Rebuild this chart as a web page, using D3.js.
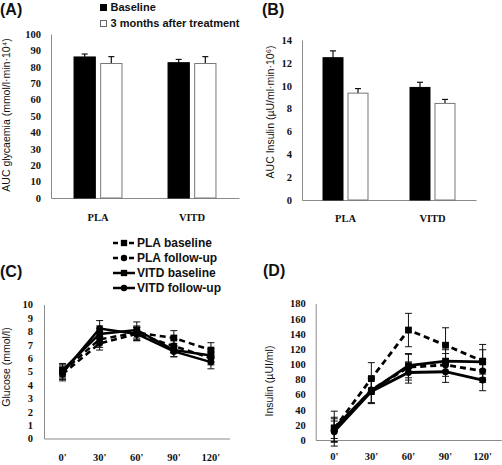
<!DOCTYPE html>
<html><head><meta charset="utf-8">
<script src="https://cdn.jsdelivr.net/npm/d3@7"></script>
<style>
body{margin:0;background:#fff;}
svg{display:block;}
.tick text{font-family:"Liberation Serif",serif;font-weight:bold;font-size:10.5px;fill:#111;}
.ttl{font-family:"Liberation Sans",Arial,sans-serif;font-size:10.5px;fill:#111;}
.lg{font-family:"Liberation Sans",Arial,sans-serif;font-weight:bold;font-size:11px;fill:#111;}
.pl{font-family:"Liberation Sans",Arial,sans-serif;font-weight:bold;font-size:16px;fill:#111;}
</style></head><body>
<script>
// ---------- data ----------
const categories = ["PLA", "VITD"];
const barSeries = ["Baseline", "3 months after treatment"];
const aucGlycBaseline = [86, 82.5];
const aucGlycBaselineErr = [1.8, 2.0];
const aucGlycFollow = [82, 82];
const aucGlycFollowErr = [4.2, 4.2];
const aucInsBaseline = [12.45, 9.85];
const aucInsBaselineErr = [0.6, 0.45];
const aucInsFollow = [9.35, 8.45];
const aucInsFollowErr = [0.4, 0.35];

const timePoints = ["0'", "30'", "60'", "90'", "120'"];
const lineSeries = ["PLA baseline", "PLA follow-up", "VITD baseline", "VITD follow-up"];
const glucPlaBase = [5.0, 7.4, 7.9, 7.5, 6.6];
const glucPlaBaseErr = [0.5, 0.6, 0.5, 0.55, 0.55];
const glucPlaFollow = [4.8, 7.1, 7.8, 6.9, 6.0];
const glucPlaFollowErr = [0.5, 0.5, 0.5, 0.5, 0.5];
const glucVitdBase = [5.1, 7.8, 8.1, 6.6, 6.2];
const glucVitdBaseErr = [0.5, 0.6, 0.6, 0.5, 0.5];
const glucVitdFollow = [4.9, 8.2, 7.8, 6.5, 5.7];
const glucVitdFollowErr = [0.5, 0.6, 0.5, 0.4, 0.5];
const insPlaBase = [15, 81, 145, 125, 104];
const insPlaBaseErr = [23, 21, 22, 23, 22];
const insPlaFollow = [13, 66, 96, 99, 91];
const insPlaFollowErr = [15, 17, 17, 15, 15];
const insVitdBase = [16, 65, 98, 104, 103];
const insVitdBaseErr = [14, 16, 16, 15, 16];
const insVitdFollow = [11, 64, 89, 90, 79];
const insVitdFollowErr = [14, 16, 14, 14, 14];

const glucTicks = d3.range(0, 11, 1);
const insTicks = d3.range(0, 181, 20);
const aucGlycTicks = d3.range(0, 101, 10);
const aucInsTicks = d3.range(0, 15, 2);

// ---------- drawing ----------
const W = 502, H = 465;
const svg = d3.select("body").append("svg").attr("width", W).attr("height", H);
const AX = "#8a8a8a";

function barPanel(o) {
  const g = svg.append("g");
  const x0 = d3.scaleBand().domain(categories).range([o.left, o.right]).paddingInner(o.pi).paddingOuter(o.pi / 2);
  const x1 = d3.scaleBand().domain(barSeries).range([0, x0.bandwidth()]).paddingInner(0.2);
  const y = d3.scaleLinear().domain([o.ticks[0], o.ticks[o.ticks.length - 1]]).range([o.bottom, o.top]);
  const ya = g.append("g").attr("transform", `translate(${o.left},0)`)
    .call(d3.axisLeft(y).tickValues(o.ticks).tickSize(0).tickPadding(10));
  ya.select(".domain").attr("stroke", AX);
  const xa = g.append("g").attr("transform", `translate(0,${o.bottom})`)
    .call(d3.axisBottom(x0).tickSize(0).tickPadding(o.xpad));
  xa.select(".domain").attr("stroke", AX);
  const rows = categories.map((c, i) => ({c, vals: [o.base[i], o.follow[i]], errs: [o.baseErr[i], o.followErr[i]]}));
  rows.forEach(r => {
    r.vals.forEach((v, j) => {
      const s = barSeries[j];
      const bx = x0(r.c) + x1(s);
      const e = r.errs[j];
      const cx = bx + x1.bandwidth() / 2;
      g.append("line").attr("x1", cx).attr("x2", cx).attr("y1", y(v)).attr("y2", y(v + e)).attr("stroke", "#111").attr("stroke-width", 1.2);
      g.append("line").attr("x1", cx - 3).attr("x2", cx + 3).attr("y1", y(v + e)).attr("y2", y(v + e)).attr("stroke", "#111").attr("stroke-width", 1.2);
      g.append("rect").attr("x", bx).attr("y", y(v)).attr("width", x1.bandwidth()).attr("height", o.bottom - y(v))
        .attr("fill", j === 0 ? "#000" : "#fff").attr("stroke", j === 0 ? "#000" : "#777").attr("stroke-width", 1);
    });
  });
  g.append("text").attr("class", "ttl").attr("transform", `translate(${o.tx},${o.ty}) rotate(-90)`)
    .attr("text-anchor", "middle").text(o.title);
}

barPanel({left: 51, right: 239, top: 34, bottom: 198, pi: 0.49, ticks: aucGlycTicks, xpad: 16,
  base: aucGlycBaseline, baseErr: aucGlycBaselineErr, follow: aucGlycFollow, followErr: aucGlycFollowErr,
  title: "AUC glycaemia (mmol/l·min·10⁴)", tx: 10, ty: 115});
barPanel({left: 302, right: 476, top: 40, bottom: 200, pi: 0.483, ticks: aucInsTicks, xpad: 15,
  base: aucInsBaseline, baseErr: aucInsBaselineErr, follow: aucInsFollow, followErr: aucInsFollowErr,
  title: "AUC Insulin (µU/ml·min·10⁶)", tx: 274, ty: 112});

// bar legend
barSeries.forEach((s, i) => {
  const yy = 4 + i * 16;
  svg.append("rect").attr("x", 100.5).attr("y", yy + 0.5).attr("width", 6).attr("height", 6)
    .attr("fill", i === 0 ? "#000" : "#fff").attr("stroke", i === 0 ? "#000" : "#666");
  svg.append("text").attr("class", "lg").attr("x", 110.5).attr("y", yy + 7).text(s);
});

const lineStyles = [
  {dash: "6,4", shape: d3.symbolSquare},
  {dash: "6,4", shape: d3.symbolCircle},
  {dash: null, shape: d3.symbolSquare},
  {dash: null, shape: d3.symbolCircle}
];

function linePanel(o) {
  const g = svg.append("g");
  const x = d3.scaleBand().domain(timePoints).range([o.left, o.right]);
  const y = d3.scaleLinear().domain([o.ticks[0], o.ticks[o.ticks.length - 1]]).range([o.bottom, o.top]);
  const ya = g.append("g").attr("transform", `translate(${o.left},0)`)
    .call(d3.axisLeft(y).tickValues(o.ticks).tickSize(0).tickPadding(o.ypad));
  ya.select(".domain").attr("stroke", AX);
  const xa = g.append("g").attr("transform", `translate(0,${o.bottom})`)
    .call(d3.axisBottom(x).tickSize(0).tickPadding(o.xpad));
  xa.select(".domain").attr("stroke", AX);
  const cx = t => x(t) + x.bandwidth() / 2;
  o.series.forEach((s, k) => {
    const pts = timePoints.map((t, i) => ({t, v: s.vals[i], e: s.errs[i]}));
    pts.forEach(p => {
      g.append("line").attr("x1", cx(p.t)).attr("x2", cx(p.t)).attr("y1", y(p.v - p.e)).attr("y2", y(p.v + p.e)).attr("stroke", "#111").attr("stroke-width", 1);
      [p.v - p.e, p.v + p.e].forEach(ev => g.append("line").attr("x1", cx(p.t) - 3.5).attr("x2", cx(p.t) + 3.5).attr("y1", y(ev)).attr("y2", y(ev)).attr("stroke", "#111").attr("stroke-width", 1));
    });
  });
  o.series.forEach((s, k) => {
    const st = lineStyles[k];
    const pts = timePoints.map((t, i) => ({t, v: s.vals[i]}));
    g.append("path").datum(pts).attr("fill", "none").attr("stroke", "#000").attr("stroke-width", o.lw)
      .attr("stroke-dasharray", st.dash).attr("d", d3.line().x(p => cx(p.t)).y(p => y(p.v)));
    g.selectAll(null).data(pts).join("path").attr("transform", p => `translate(${cx(p.t)},${y(p.v)})`)
      .attr("d", d3.symbol(st.shape, st.shape === d3.symbolSquare ? 46 : 38)).attr("fill", "#000");
  });
  g.append("text").attr("class", "ttl").attr("transform", `translate(${o.tx},${o.ty}) rotate(-90)`)
    .attr("text-anchor", "middle").text(o.title);
}

linePanel({left: 44, right: 229.5, top: 304.5, bottom: 438.5, ticks: glucTicks, ypad: 11, xpad: 15, lw: 2.5,
  series: [
    {vals: glucPlaBase, errs: glucPlaBaseErr}, {vals: glucPlaFollow, errs: glucPlaFollowErr},
    {vals: glucVitdBase, errs: glucVitdBaseErr}, {vals: glucVitdFollow, errs: glucVitdFollowErr}],
  title: "Glucose (mmol/l)", tx: 10, ty: 367});
linePanel({left: 315.7, right: 501.2, top: 303.5, bottom: 440, ticks: insTicks, ypad: 10, xpad: 13, lw: 2.8,
  series: [
    {vals: insPlaBase, errs: insPlaBaseErr}, {vals: insPlaFollow, errs: insPlaFollowErr},
    {vals: insVitdBase, errs: insVitdBaseErr}, {vals: insVitdFollow, errs: insVitdFollowErr}],
  title: "Insulin (µUI/ml)", tx: 273, ty: 381});

// line legend
lineSeries.forEach((s, i) => {
  const yy = 243 + i * 15;
  const st = lineStyles[i];
  svg.append("line").attr("x1", 113).attr("x2", 135).attr("y1", yy).attr("y2", yy).attr("stroke", "#000")
    .attr("stroke-width", 2.5).attr("stroke-dasharray", st.dash ? "5,3" : null);
  svg.append("path").attr("transform", `translate(124,${yy})`).attr("d", d3.symbol(st.shape, st.shape === d3.symbolSquare ? 40 : 32)).attr("fill", "#000");
  svg.append("text").attr("class", "lg").style("font-size", "12px").attr("x", 137).attr("y", yy).attr("dy", "0.35em").text(s);
});

// panel labels
[["(A)", 0, 15], ["(B)", 262, 15], ["(C)", 0, 277], ["(D)", 263, 276]].forEach(([t, x, y]) =>
  svg.append("text").attr("class", "pl").attr("x", x).attr("y", y).text(t));
</script>
</body></html>
